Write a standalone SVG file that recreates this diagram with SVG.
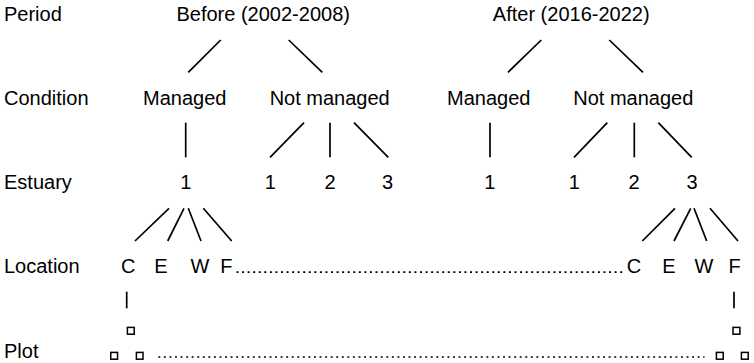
<svg xmlns="http://www.w3.org/2000/svg" width="754" height="363" viewBox="0 0 754 363">
<style>
text{font-family:"Liberation Sans",Arial,sans-serif;font-size:20px;fill:#000}
.m{text-anchor:middle}
.e line{stroke:#000;stroke-width:1.7;fill:none}
.dot{stroke:#000;stroke-width:2.1;stroke-dasharray:2 3.56;fill:none}
.sq{fill:none;stroke:#000;stroke-width:1.5}
</style>
<rect width="754" height="363" fill="#fff"/>
<g id="row-labels">
<text x="4" y="20.5">Period</text>
<text x="4" y="105">Condition</text>
<text x="4" y="189">Estuary</text>
<text x="4" y="273.3">Location</text>
<text x="4" y="358">Plot</text>
</g>
<g id="before"><text class="m" x="263.2" y="20.5">Before (2002-2008)</text></g>
<g id="after"><text class="m" x="571.2" y="20.5">After (2016-2022)</text></g>
<g id="before-managed"><text class="m" x="184.7" y="105">Managed</text></g>
<g id="before-notmanaged"><text class="m" x="329.7" y="105">Not managed</text></g>
<g id="after-managed"><text class="m" x="488.7" y="105">Managed</text></g>
<g id="after-notmanaged"><text class="m" x="633.3" y="105">Not managed</text></g>
<g id="before-m-est1"><text class="m" x="185.7" y="189">1</text></g>
<g id="before-n-est1"><text class="m" x="270.2" y="189">1</text></g>
<g id="before-n-est2"><text class="m" x="330" y="189">2</text></g>
<g id="before-n-est3"><text class="m" x="387.5" y="189">3</text></g>
<g id="after-m-est1"><text class="m" x="489.7" y="189">1</text></g>
<g id="after-n-est1"><text class="m" x="574.4" y="189">1</text></g>
<g id="after-n-est2"><text class="m" x="634" y="189">2</text></g>
<g id="after-n-est3"><text class="m" x="692" y="189">3</text></g>
<g id="left-loc-C"><text class="m" x="128.3" y="273.3">C</text></g>
<g id="left-loc-E"><text class="m" x="161" y="273.3">E</text></g>
<g id="left-loc-W"><text class="m" x="200" y="273.3">W</text></g>
<g id="left-loc-F"><text class="m" x="226.3" y="273.3">F</text></g>
<g id="right-loc-C"><text class="m" x="634" y="273.3">C</text></g>
<g id="right-loc-E"><text class="m" x="668.8" y="273.3">E</text></g>
<g id="right-loc-W"><text class="m" x="704" y="273.3">W</text></g>
<g id="right-loc-F"><text class="m" x="734.5" y="273.3">F</text></g>
<g id="left-plots">
<rect class="sq" x="127.4" y="327.4" width="6.8" height="6.8"/>
<rect class="sq" x="110.75" y="352.4" width="6.8" height="6.8"/>
<rect class="sq" x="136.4" y="352.4" width="6.6" height="6.8"/>
</g>
<g id="right-plots">
<rect class="sq" x="733" y="327.4" width="6.9" height="6.8"/>
<rect class="sq" x="716.4" y="352.4" width="6.8" height="6.8"/>
<rect class="sq" x="741.4" y="352.4" width="6.8" height="6.8"/>
</g>
<g id="connectors" class="e">
<line x1="188.3" y1="72.3" x2="220.7" y2="40"/>
<line x1="288.7" y1="40" x2="322.3" y2="72.3"/>
<line x1="508" y1="72.3" x2="541.3" y2="40"/>
<line x1="609.3" y1="40" x2="643" y2="72.3"/>
<line x1="185.7" y1="122.7" x2="185.7" y2="157.3"/>
<line x1="270" y1="157.3" x2="304" y2="122.7"/>
<line x1="330" y1="122.7" x2="330" y2="157.3"/>
<line x1="354" y1="122.7" x2="388.3" y2="157.3"/>
<line x1="490" y1="122.7" x2="490" y2="157.3"/>
<line x1="574" y1="157.3" x2="607.3" y2="122.7"/>
<line x1="634.3" y1="122.7" x2="634.3" y2="157.3"/>
<line x1="658.3" y1="122.7" x2="691.7" y2="157.3"/>
<line x1="135" y1="241" x2="169" y2="208.3"/>
<line x1="167.7" y1="241" x2="184" y2="208.3"/>
<line x1="201" y1="241" x2="188.3" y2="208.3"/>
<line x1="231.7" y1="241" x2="203.3" y2="208.3"/>
<line x1="642.3" y1="241" x2="675" y2="208.3"/>
<line x1="674" y1="241" x2="690.7" y2="208.3"/>
<line x1="706.7" y1="241" x2="694" y2="208.3"/>
<line x1="738" y1="241" x2="710" y2="208.3"/>
<line x1="126.7" y1="291.7" x2="126.7" y2="308.3"/>
<line x1="734" y1="291.7" x2="734" y2="308.3"/>
<line class="dot" x1="236.5" y1="272.2" x2="625" y2="272.2"/>
<line class="dot" x1="158.3" y1="357" x2="704.5" y2="357"/>
</g>
</svg>
